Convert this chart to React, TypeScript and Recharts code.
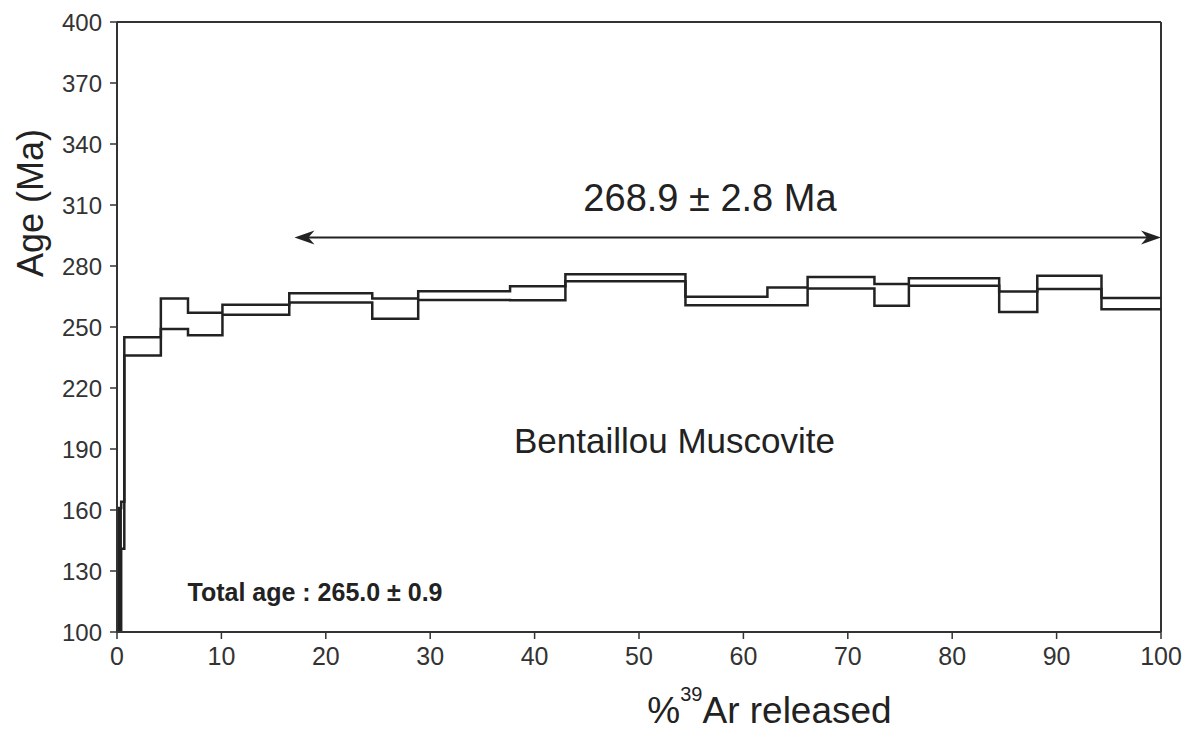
import React from 'react';
import { ComposedChart, Line, XAxis, YAxis, ReferenceLine, ReferenceArea, ReferenceDot } from 'recharts';

// step boundaries (% 39Ar released) and the 2-sigma envelope of each step (Ma)
const stepStart = [0, 0.4, 0.7, 4.2, 6.8, 10.1, 16.5, 24.45, 28.85, 37.65, 42.95, 54.45, 62.3, 66.15, 72.55, 75.85, 84.5, 88.15, 94.3];
const ageTop = [161, 164, 245, 264, 257, 261, 266.6, 264, 267.6, 270.1, 275.9, 264.9, 269.4, 274.6, 271.2, 274, 267.4, 275.2, 264.3];
const ageBottom = [100, 141, 236, 249, 246, 256, 262, 254, 263.3, 263.2, 272.5, 260.7, 260.7, 268.9, 260.5, 270.3, 257.4, 268.7, 258.7];

const xTicks = [0, 10, 20, 30, 40, 50, 60, 70, 80, 90, 100];
const yTicks = [100, 130, 160, 190, 220, 250, 280, 310, 340, 370, 400];

// plateau arrow
const plateauFrom = 17;
const plateauTo = 100;
const plateauAge = 294;

// annotations: [x %, age Ma]
const plateauLabel = { x: 56.8, y: 313.5, text: '268.9 ± 2.8 Ma' };
const sampleLabel = { x: 53.4, y: 194.4, text: 'Bentaillou Muscovite' };
const totalLabel = { x: 6.75, y: 119.7, text: 'Total age : 265.0 ± 0.9' };

const lastIdx = stepStart.length - 1;
const stepData = [
  ...stepStart.map((x, i) => ({ x, top: ageTop[i], bottom: ageBottom[i] })),
  { x: 100, top: ageTop[lastIdx], bottom: ageBottom[lastIdx] },
];

const FONT = '"Liberation Sans", Arial, sans-serif';
const INK = '#222';

const PlateauArrow = (p: any) => {
  const { x1, y1, x2, y2 } = p;
  const len = 20;
  const half = 7;
  return (
    <g>
      <line x1={x1 + 10} y1={y1} x2={x2 - 10} y2={y2} stroke={INK} strokeWidth={2} />
      <polygon points={`${x1},${y1} ${x1 + len},${y1 - half} ${x1 + 14},${y1} ${x1 + len},${y1 + half}`} fill={INK} />
      <polygon points={`${x2},${y2} ${x2 - len},${y2 - half} ${x2 - 14},${y2} ${x2 - len},${y2 + half}`} fill={INK} />
    </g>
  );
};

const textAt = (text: string, size: number, anchor: string, weight = 'normal') => (p: any) => {
  const vb = p.viewBox || {};
  return (
    <text x={vb.x} y={vb.y} textAnchor={anchor} dominantBaseline="central" fontSize={size} fontWeight={weight} fontFamily={FONT} fill={INK}>
      {text}
    </text>
  );
};

const XTitle = (p: any) => {
  const vb = p.viewBox || { x: 117, y: 632, width: 1044 };
  const cx = vb.x + vb.width * 0.625;
  const base = vb.y + 91;
  return (
    <text x={cx} y={base} textAnchor="middle" fontSize={37} fontFamily={FONT} fill={INK}>
      %
      <tspan dy={-22} fontSize={20}>39</tspan>
      <tspan dy={22}>Ar released</tspan>
    </text>
  );
};

const YTitle = () => {
  const cx = 43;
  const cy = 203;
  return (
    <text x={cx} y={cy} transform={`rotate(-90 ${cx} ${cy})`} textAnchor="middle" fontSize={36} fontFamily={FONT} fill={INK}>
      Age (Ma)
    </text>
  );
};

export default function App() {
  return (
    <div style={{ position: 'absolute', left: 0, top: 0, width: 1198, height: 740, background: '#fff', fontFamily: FONT }}>
      <ComposedChart width={1198} height={740} data={stepData} margin={{ top: 22, right: 37, left: 0, bottom: 0 }}>
        <XAxis
          dataKey="x"
          type="number"
          domain={[0, 100]}
          ticks={xTicks}
          allowDataOverflow
          height={108}
          tickSize={7}
          tickMargin={8}
          axisLine={{ stroke: '#333', strokeWidth: 2 }}
          tickLine={{ stroke: '#333', strokeWidth: 1.5 }}
          tick={{ fontSize: 25, fill: '#333', fontFamily: FONT }}
          label={XTitle}
        />
        <YAxis
          type="number"
          domain={[100, 400]}
          ticks={yTicks}
          allowDataOverflow
          width={117}
          tickSize={7}
          tickMargin={8}
          axisLine={{ stroke: '#333', strokeWidth: 2 }}
          tickLine={{ stroke: '#333', strokeWidth: 1.5 }}
          tick={{ fontSize: 24, fill: '#333', fontFamily: FONT }}
          label={YTitle}
        />
        <ReferenceLine y={400} stroke="#333" strokeWidth={2} />
        <ReferenceLine x={100} stroke="#333" strokeWidth={2} />
        <ReferenceArea
          x1={stepStart[0]}
          x2={stepStart[1]}
          y1={ageBottom[0]}
          y2={ageTop[0]}
          fill={INK}
          fillOpacity={1}
          stroke={INK}
          strokeWidth={1.5}
        />
        <Line type="stepAfter" dataKey="top" stroke={INK} strokeWidth={2.5} dot={false} isAnimationActive={false} />
        <Line type="stepAfter" dataKey="bottom" stroke={INK} strokeWidth={2.5} dot={false} isAnimationActive={false} />
        <ReferenceLine
          segment={[{ x: plateauFrom, y: plateauAge }, { x: plateauTo, y: plateauAge }]}
          shape={PlateauArrow}
        />
        <ReferenceDot x={plateauLabel.x} y={plateauLabel.y} r={0} fill="none" stroke="none" label={textAt(plateauLabel.text, 38, 'middle')} />
        <ReferenceDot x={sampleLabel.x} y={sampleLabel.y} r={0} fill="none" stroke="none" label={textAt(sampleLabel.text, 35, 'middle')} />
        <ReferenceDot x={totalLabel.x} y={totalLabel.y} r={0} fill="none" stroke="none" label={textAt(totalLabel.text, 25, 'start', 'bold')} />
      </ComposedChart>
    </div>
  );
}
